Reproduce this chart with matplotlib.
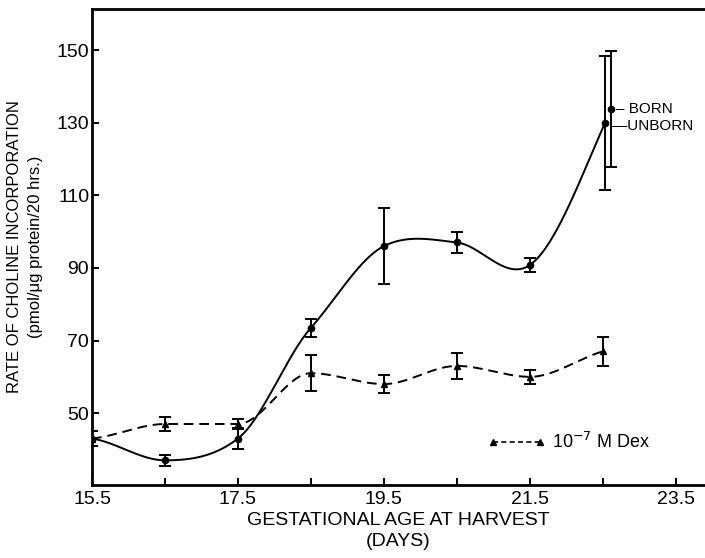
import numpy as np
import matplotlib
matplotlib.use("Agg")
import matplotlib.pyplot as plt

plt.rcParams['font.family'] = ['Liberation Sans', 'DejaVu Sans']

# control (solid line, circles)
days = [15.5, 16.5, 17.5, 18.5, 19.5, 20.5, 21.5]
control = [43, 37, 43, 73.5, 96, 97, 90.8]
control_err = [2, 1.5, 3, 2.5, 10.5, 3, 2]

# last day: unborn and born pups
unborn_day, unborn_val, unborn_err = 22.53, 130, 18.5
born_day, born_val, born_err = 22.61, 133.7, 16

# dexamethasone treated (dashed line, triangles)
dex_days = [15.5, 16.5, 17.5, 18.5, 19.5, 20.5, 21.5, 22.5]
dex = [43, 47, 47, 61, 58, 63, 60, 67]
dex_err = [2, 2, 1.5, 5, 2.5, 3.5, 2, 4]


def hermite(x, y, m, n=400):
    x = np.asarray(x, float)
    y = np.asarray(y, float)
    h = np.diff(x)
    xs = np.linspace(x[0], x[-1], n)
    idx = np.clip(np.searchsorted(x, xs) - 1, 0, len(x) - 2)
    hh = h[idx]
    t = (xs - x[idx]) / hh
    h00 = 2 * t ** 3 - 3 * t ** 2 + 1
    h10 = t ** 3 - 2 * t ** 2 + t
    h01 = -2 * t ** 3 + 3 * t ** 2
    h11 = t ** 3 - t ** 2
    ys = h00 * y[idx] + h10 * hh * m[idx] + h01 * y[idx + 1] + h11 * hh * m[idx + 1]
    return xs, ys


def cardinal(x, y, tension=0.15):
    x = np.asarray(x, float)
    y = np.asarray(y, float)
    d = np.diff(y) / np.diff(x)
    m = np.zeros_like(y)
    m[1:-1] = (1 - tension) * (y[2:] - y[:-2]) / (x[2:] - x[:-2])
    m[0] = d[0] * 0.5
    m[-1] = d[-1] * 1.2
    return hermite(x, y, m)


def pchip(x, y):
    x = np.asarray(x, float)
    y = np.asarray(y, float)
    h = np.diff(x)
    d = np.diff(y) / h
    m = np.zeros_like(y)
    for i in range(1, len(x) - 1):
        if d[i - 1] * d[i] > 0:
            w1 = 2 * h[i] + h[i - 1]
            w2 = h[i] + 2 * h[i - 1]
            m[i] = (w1 + w2) / (w1 / d[i - 1] + w2 / d[i])
    m[0] = d[0] * 0.5
    m[-1] = d[-1] * 0.8
    return hermite(x, y, m)


fig = plt.figure(figsize=(7.05, 5.58), dpi=100)
ax = fig.add_axes([0.1305, 0.1308, 0.8695, 0.853])

# solid curve through control points up to unborn
cx, cy = cardinal(days + [unborn_day], control + [unborn_val])
ax.plot(cx, cy, color='black', lw=1.4)
ax.errorbar(days + [unborn_day], control + [unborn_val],
            yerr=control_err + [unborn_err], fmt='o', color='black',
            ms=4.5, capsize=4, elinewidth=1.4, capthick=1.4)
ax.errorbar([born_day], [born_val], yerr=[born_err], fmt='o', color='black',
            ms=4.5, capsize=4, elinewidth=1.4, capthick=1.4)

# dashed curve for dex
dx, dy = pchip(dex_days, dex)
ax.plot(dx, dy, color='black', lw=1.4, linestyle=(0, (5, 3)))
ax.errorbar(dex_days, dex, yerr=dex_err, fmt='^', color='black',
            ms=5, capsize=4, elinewidth=1.4, capthick=1.4)

# legend handle
ax.plot([], [], color='black', lw=1.2, linestyle=(0, (3, 2)), marker='^',
        ms=5, label='10$^{-7}$ M Dex')
ax.legend(loc='center left', bbox_to_anchor=(0.645, 0.09), frameon=False,
          numpoints=2, handlelength=3.2, handletextpad=0.4, borderpad=0,
          borderaxespad=0, fontsize=13)

ax.text(22.68, born_val, '– BORN', fontsize=11, va='center', ha='left')
ax.text(22.62, unborn_val - 0.8, '—UNBORN', fontsize=11, va='center', ha='left')

ax.set_xlim(15.5, 23.9)
ax.set_ylim(30.2, 161.3)
ax.set_xticks([15.5, 17.5, 19.5, 21.5, 23.5])
ax.set_xticklabels(['15.5', '17.5', '19.5', '21.5', '23.5'])
ax.set_xticks([16.5, 18.5, 20.5, 22.5], minor=True)
ax.set_yticks([50, 70, 90, 110, 130, 150])
ax.tick_params(which='both', direction='in', length=5, width=1.4,
               labelsize=14, pad=4)
ax.tick_params(axis='y', pad=2)
for s in ['left', 'bottom', 'top']:
    ax.spines[s].set_linewidth(2)
ax.spines['right'].set_visible(False)

ax.set_xlabel('GESTATIONAL AGE AT HARVEST\n(DAYS)', fontsize=14,
              linespacing=1.35, labelpad=3)
ax.set_ylabel('RATE OF CHOLINE INCORPORATION\n(pmol/μg protein/20 hrs.)',
              fontsize=12, linespacing=1.5, labelpad=10)

fig.savefig('out.png', dpi=100)
